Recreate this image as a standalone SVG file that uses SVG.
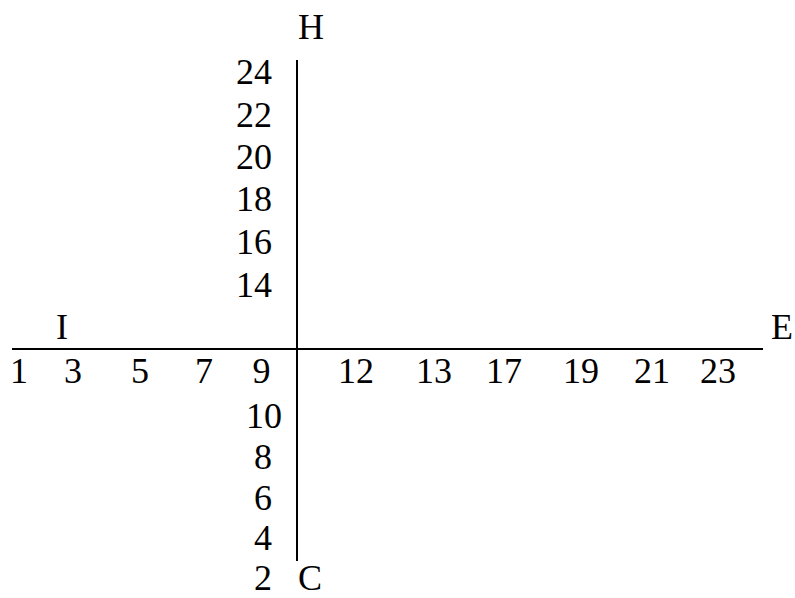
<svg xmlns="http://www.w3.org/2000/svg" width="795" height="598" viewBox="0 0 795 598">
<style>
text{font-family:"Liberation Serif","Times New Roman",serif;font-size:36px;fill:#000}
.m{text-anchor:middle}
.e{text-anchor:end}
.ax{stroke:#000;stroke-width:2;fill:none}
</style>
<rect width="795" height="598" fill="#fff"/>
<g id="connectors">
<line class="ax" x1="12" y1="349" x2="763" y2="349"/>
<line class="ax" x1="297" y1="60" x2="297" y2="561"/>
</g>
<g id="H"><text x="298" y="39">H</text></g>
<g id="C"><text x="298" y="590">C</text></g>
<g id="I"><text class="m" x="62" y="339">I</text></g>
<g id="E"><text x="771" y="339">E</text></g>
<g id="top">
<text class="e" x="272" y="84">24</text>
<text class="e" x="272" y="127">22</text>
<text class="e" x="272" y="169">20</text>
<text class="e" x="272" y="211">18</text>
<text class="e" x="272" y="254">16</text>
<text class="e" x="272" y="297">14</text>
</g>
<g id="bottom">
<text class="e" x="282" y="428">10</text>
<text class="e" x="272" y="469">8</text>
<text class="e" x="272" y="510">6</text>
<text class="e" x="272" y="550">4</text>
<text class="e" x="272" y="590">2</text>
</g>
<g id="row">
<text class="m" x="19" y="383">1</text>
<text class="m" x="73" y="383">3</text>
<text class="m" x="140" y="383">5</text>
<text class="m" x="204" y="383">7</text>
<text class="m" x="261.5" y="383">9</text>
<text class="m" x="356" y="383">12</text>
<text class="m" x="434" y="383">13</text>
<text class="m" x="504" y="383">17</text>
<text class="m" x="581" y="383">19</text>
<text class="m" x="652" y="383">21</text>
<text class="m" x="718" y="383">23</text>
</g>
</svg>
